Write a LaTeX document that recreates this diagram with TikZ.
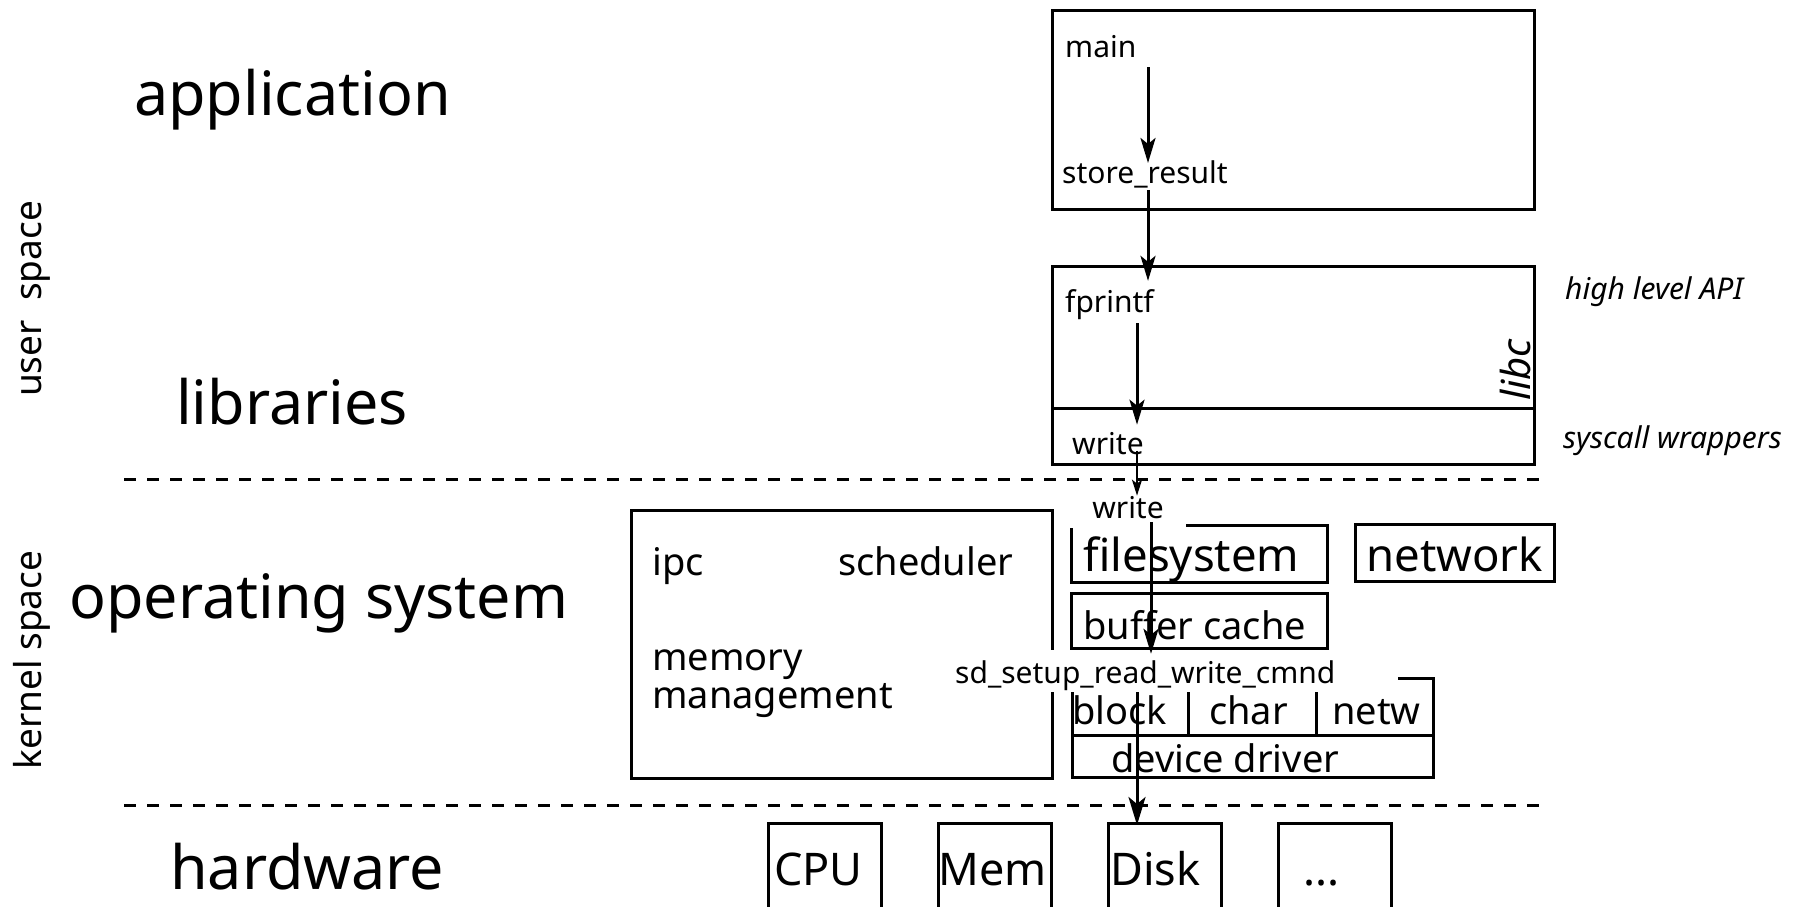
\documentclass[tikz,border=0pt]{standalone}
\usepackage{fontspec}
\setmainfont{Noto Sans}
\usetikzlibrary{arrows.meta}
\begin{document}
\begin{tikzpicture}[x=1pt,y=-1pt,
  boxn/.style={draw, line width=3pt, inner sep=0pt, outer sep=0pt, anchor=north west},
  divline/.style={line width=3pt},
  dashline/.style={line width=3pt, dash pattern=on 12pt off 11pt},
  txt/.style={inner sep=0pt, anchor=base west},
  tlayer/.style={txt, font=\fontsize{61}{72}\selectfont},
  tside/.style={inner sep=0pt, anchor=base, rotate=90, font=\fontsize{37}{44}\selectfont},
  tfunc/.style={txt, font=\fontsize{30}{36}\selectfont},
  tnote/.style={txt, font=\fontsize{30}{36}\selectfont\itshape},
  tos/.style={txt, font=\fontsize{38}{38}\selectfont},
  tsub/.style={txt, font=\fontsize{45.5}{54}\selectfont},
  thw/.style={txt, font=\fontsize{45}{52}\selectfont},
  arr/.style={line width=3pt, -{Stealth[length=25pt,width=15pt,inset=6pt]}},
  arrsmall/.style={line width=2.6pt, -{Stealth[length=16pt,width=10pt,inset=4pt]}},
  arrbig/.style={line width=3pt, -{Stealth[length=28pt,width=17pt,inset=7pt]}},
]
\useasboundingbox (0,0) rectangle (1798,907);

% boxes
\node[boxn, minimum width=482pt, minimum height=198pt] (appbox) at (1052,11) {};
\node[boxn, minimum width=482pt, minimum height=198pt] (libcbox) at (1052,266) {};
\coordinate (libcdiv) at (0,408);
\draw[divline] (libcbox.west |- libcdiv) -- (libcbox.east |- libcdiv);
\node[boxn, minimum width=421pt, minimum height=268pt] (osbox) at (631,510) {};
\node[boxn, minimum width=256pt, minimum height=57pt] (fsbox) at (1071,525) {};
\node[boxn, minimum width=199pt, minimum height=57pt] (netbox) at (1355,524) {};
\node[boxn, minimum width=256pt, minimum height=55pt] (bcbox) at (1071,593) {};
\node[boxn, minimum width=361pt, minimum height=99pt] (ddbox) at (1072,678) {};
\coordinate (dddiv) at (0,735);
\coordinate (sep1) at (1188,0);
\coordinate (sep2) at (1316,0);
\draw[divline] (ddbox.west |- dddiv) -- (ddbox.east |- dddiv);
\draw[divline] (ddbox.north -| sep1) -- (dddiv -| sep1);
\draw[divline] (ddbox.north -| sep2) -- (dddiv -| sep2);
\node[boxn, minimum width=113pt, minimum height=150pt] (cpubox) at (768,823) {};
\node[boxn, minimum width=113pt, minimum height=150pt] (membox) at (938,823) {};
\node[boxn, minimum width=113pt, minimum height=150pt] (diskbox) at (1108,823) {};
\node[boxn, minimum width=113pt, minimum height=150pt] (morebox) at (1278,823) {};

% dashed separators
\draw[dashline] (124,479) -- (1546,479);
\draw[dashline] (124,805) -- (1546,805);

% layer labels
\node[tlayer] (lapp) at (134,115) {application};
\node[tlayer] (llib) at (176,424) {libraries};
\node[tlayer] (los) at (69,618) {operating system};
\node[tlayer] (lhw) at (170,889) {hardware};
\node[tside] (luser) at (41,299) {user\ \ space};
\node[tside] (lkern) at (41,660) {kernel space};

% application / libc
\node[tfunc] (main) at (1065,57) {main};
\node[tfunc] (store) at (1062,183) {store\_result};
\node[tfunc] (fprintf) at (1065,312) {fprintf};
\node[tfunc] (lwrite) at (1072,454) {write};
\node[inner sep=0pt, anchor=base west, rotate=90, font=\fontsize{40}{46}\selectfont\itshape] (libc) at (1530,401) {libc};
\node[tnote] (hlapi) at (1565,299) {high level API};
\node[tnote] (sysw) at (1563,448) {syscall wrappers};

% operating system
\node[tos] (ipc) at (652,575) {ipc};
\node[tos] (sched) at (838,575) {scheduler};
\node[tos, align=left] (mm) at (652,708) {memory\\management};
\node[tsub] (fs) at (1083,571) {filesystem};
\node[tsub] (net) at (1366,571) {network};
\node[tos] (bc) at (1083,639) {buffer cache};
\node[tos] (blk) at (1072,724) {block};
\node[tos] (chr) at (1209,724) {char};
\node[tos] (netw) at (1332,724) {netw};
\node[tos] (ddrv) at (1111,772) {device driver};
\node[inner xsep=22pt, inner ysep=0pt, text depth=10pt, anchor=base, fill=white,
      font=\fontsize{30}{36}\selectfont] (kwrite) at (1128,518) {write};
\node[inner sep=0pt, anchor=base west, fill=white, text width=443pt, align=left,
      text height=33pt, text depth=9pt, font=\fontsize{30}{36}\selectfont] (sd) at (955,683) {sd\_setup\_read\_write\_cmnd};

% hardware
\node[thw] (cpu) at (774,885) {CPU};
\node[thw] (mem) at (938,885) {Mem};
\node[thw] (disk) at (1110,885) {Disk};
\node[thw] (more) at (1303,885) {...};

% call path
\coordinate (ax1) at (1148,0);
\coordinate (ax2) at (1137,0);
\coordinate (ax3) at (1151,0);
\draw[arr, shorten <=10pt, shorten >=-3pt] (main.south -| ax1) -- (store.north -| ax1);
\draw[arr, shorten <=2pt, shorten >=8pt] (store.south -| ax1) -- (fprintf.north -| ax1);
\draw[arr, shorten <=4pt, shorten >=7pt] (fprintf.south -| ax2) -- (lwrite.north -| ax2);
\draw[arrsmall, shorten <=-4pt] (lwrite.south -| ax2) -- (kwrite.north -| ax2);
\draw[arr, shorten <=-6pt, shorten >=-4pt] (kwrite.south -| ax3) -- (sd.north -| ax3);
\draw[arrbig, shorten >=-2pt] (sd.south -| ax2) -- (diskbox.north -| ax2);
\end{tikzpicture}
\end{document}
